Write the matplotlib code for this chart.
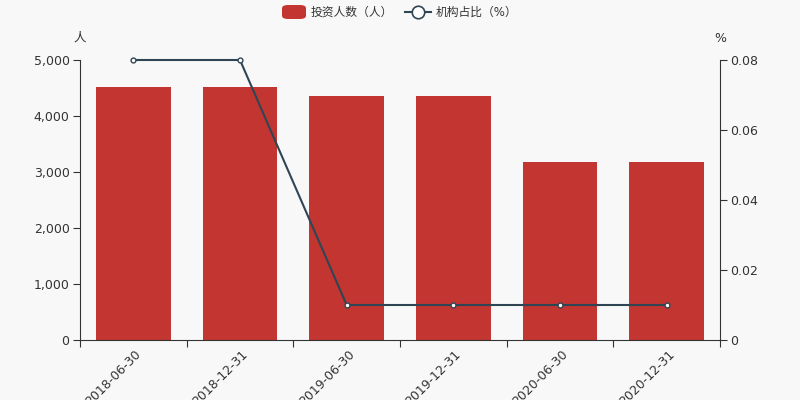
import matplotlib
matplotlib.use("Agg")
import matplotlib.pyplot as plt
from matplotlib.ticker import FuncFormatter
from matplotlib.lines import Line2D
from matplotlib.patches import FancyBboxPatch

plt.rcParams['font.family'] = ['DejaVu Sans', 'Noto Sans CJK SC']

categories = ["2018-06-30", "2018-12-31", "2019-06-30", "2019-12-31", "2020-06-30", "2020-12-31"]
investors = [4510, 4510, 4355, 4355, 3180, 3180]
inst_ratio = [0.08, 0.08, 0.01, 0.01, 0.01, 0.01]
legend_labels = ["投资人数（人）", "机构占比（%）"]

bg = "#f8f8f8"
bar_color = "#c23531"
line_color = "#2f4554"
axis_color = "#333333"

W, H = 800, 400
fig = plt.figure(figsize=(8, 4), dpi=100, facecolor=bg)
ax = fig.add_axes([0.1, 0.15, 0.8, 0.7])
ax.set_facecolor(bg)
x = list(range(len(categories)))
ax.bar(x, investors, width=0.7, color=bar_color, zorder=2)
ax.set_xlim(-0.5, len(categories) - 0.5)
ax.set_ylim(0, 5000)
ax.set_yticks([0, 1000, 2000, 3000, 4000, 5000])
ax.yaxis.set_major_formatter(FuncFormatter(lambda v, p: f"{int(v):,}"))

ax.set_xticks([i - 0.5 for i in range(len(categories) + 1)])
ax.set_xticklabels([])
ax.tick_params(axis='x', length=5, color=axis_color)
for i, c in enumerate(categories):
    ax.text(i + 0.01, -0.028, c, transform=ax.get_xaxis_transform(), rotation=45,
            ha='right', va='top', rotation_mode='anchor', fontsize=9, color=axis_color)

ax2 = ax.twinx()
ax2.plot(x, inst_ratio, color=line_color, linewidth=1.5, marker='o', markersize=3.5,
         markerfacecolor='white', markeredgecolor=line_color, markeredgewidth=1,
         zorder=3, clip_on=False)
ax2.set_ylim(0, 0.08)
ax2.set_yticks([0, 0.02, 0.04, 0.06, 0.08])
ax2.yaxis.set_major_formatter(FuncFormatter(lambda v, p: "0" if v == 0 else f"{v:.2f}"))

for a in (ax, ax2):
    a.spines['top'].set_visible(False)
    for s in ('left', 'right', 'bottom'):
        a.spines[s].set_color(axis_color)
    a.tick_params(axis='y', length=5, pad=2.5, color=axis_color, labelcolor=axis_color, labelsize=9)
ax.spines['right'].set_visible(False)
ax2.spines['left'].set_visible(False)
ax2.spines['bottom'].set_visible(False)

fig.text(80 / W, 1 - 38.5 / H, "人", ha='center', va='center', fontsize=9, color=axis_color)
fig.text(720 / W, 1 - 38.5 / H, "%", ha='center', va='center', fontsize=9, color=axis_color)

# legend (drawn manually to match layout)
fig.patches.append(FancyBboxPatch((282 / W, 1 - 19 / H), 24 / W, 14 / H,
                                  boxstyle="round,pad=0,rounding_size=0.008",
                                  transform=fig.transFigure, facecolor=bar_color,
                                  edgecolor='none'))
fig.text(311 / W, 1 - 12.3 / H, legend_labels[0], ha='left', va='center',
         fontsize=8.5, color=axis_color)
fig.add_artist(Line2D([405 / W, 431 / W], [1 - 12 / H, 1 - 12 / H], color=line_color,
                      linewidth=1.5, transform=fig.transFigure))
fig.add_artist(Line2D([418 / W], [1 - 12 / H], marker='o', markersize=9,
                      markerfacecolor='white', markeredgecolor=line_color,
                      markeredgewidth=1.2, transform=fig.transFigure))
fig.text(436 / W, 1 - 12.3 / H, legend_labels[1], ha='left', va='center',
         fontsize=8.5, color=axis_color)

fig.savefig("out.png", dpi=100, facecolor=bg)
